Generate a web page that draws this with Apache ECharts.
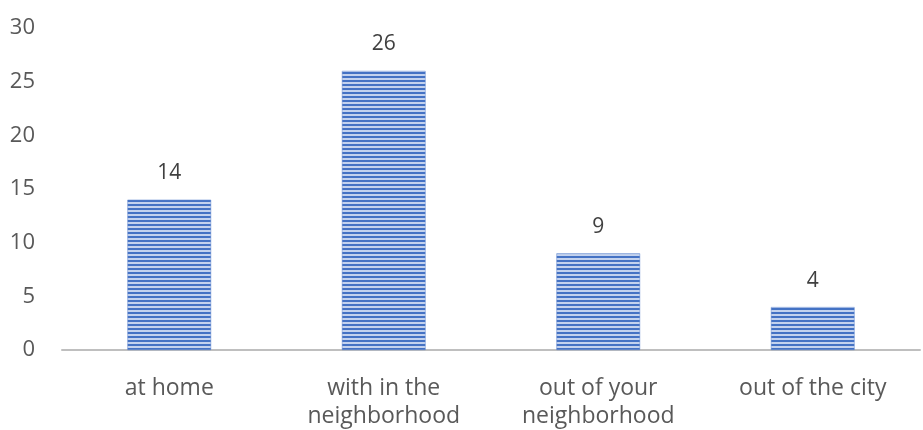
<!DOCTYPE html>
<html>
<head>
<meta charset="utf-8">
<script src="https://cdn.jsdelivr.net/npm/echarts@6/dist/echarts.min.js"></script>
<style>
  html, body { margin: 0; padding: 0; background: #fff; }
  #chart { width: 923px; height: 430px; }
</style>
</head>
<body>
<div id="chart"></div>
<script>
// Where the activity takes place, and how many responses per place
const categories = ['at home', 'with in the\nneighborhood', 'out of your\nneighborhood', 'out of the city'];
const counts = [14, 26, 9, 4];
const yTicks = [0, 5, 10, 15, 20, 25, 30];

// Horizontal stripe fill: 2px blue line, 2px pale gap
function stripePattern() {
  const c = document.createElement('canvas');
  c.width = 8;
  c.height = 4;
  const ctx = c.getContext('2d');
  ctx.fillStyle = '#c3d2ee';
  ctx.fillRect(0, 0, 8, 4);
  ctx.fillStyle = '#4472c4';
  ctx.fillRect(0, 0, 8, 2);
  return { image: c, repeat: 'repeat' };
}

const chart = echarts.init(document.getElementById('chart'), null, { renderer: 'canvas' });
const font = '"Open Sans", "Noto Sans", sans-serif';

chart.setOption({
  animation: false,
  textStyle: { fontFamily: font },
  grid: { left: 62, right: 3, top: 28, bottom: 79 },
  xAxis: {
    type: 'category',
    data: categories,
    axisLine: { lineStyle: { color: '#bfbfbf', width: 2 } },
    axisTick: { show: false },
    axisLabel: {
      color: '#595959',
      fontSize: 23,
      fontFamily: font,
      margin: 24,
      lineHeight: 28,
      interval: 0
    }
  },
  yAxis: {
    type: 'value',
    min: yTicks[0],
    max: yTicks[yTicks.length - 1],
    interval: 5,
    splitLine: { show: false },
    axisLine: { show: false },
    axisTick: { show: false },
    axisLabel: {
      color: '#595959',
      fontSize: 22,
      fontFamily: font,
      margin: 27
    }
  },
  series: [{
    type: 'bar',
    data: counts,
    barWidth: '39%',
    itemStyle: {
      color: stripePattern(),
      borderColor: '#5b83cc',
      borderWidth: 0.5
    },
    label: {
      show: true,
      position: 'top',
      distance: 16,
      color: '#404040',
      fontSize: 21,
      fontFamily: font
    }
  }]
});
</script>
</body>
</html>
